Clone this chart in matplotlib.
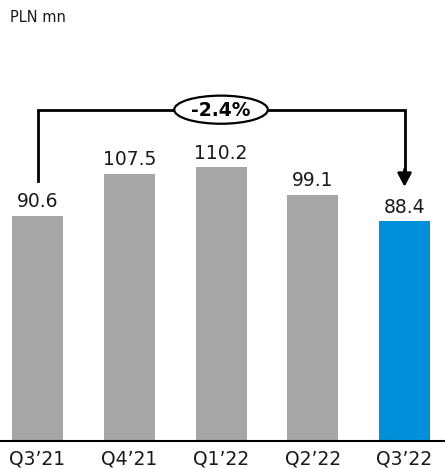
import matplotlib
matplotlib.use("Agg")
import matplotlib.pyplot as plt
from matplotlib.patches import Ellipse

quarters = ["Q3\u201921", "Q4\u201921", "Q1\u201922", "Q2\u201922", "Q3\u201922"]
values = [90.6, 107.5, 110.2, 99.1, 88.4]
unit_label = "PLN mn"

GREY = "#A6A6A6"
BLUE = "#0090DA"
colors = [GREY] * (len(values) - 1) + [BLUE]

plt.rcParams["font.family"] = ["DejaVu Sans"]

fig = plt.figure(figsize=(4.45, 4.69), dpi=100)
ax = fig.add_axes([0, 28 / 469, 1, 441 / 469])

x = list(range(len(values)))
ax.bar(x, values, width=0.556, color=colors, zorder=2)

ax.set_xlim(-0.409, 4.441)
ax.set_ylim(0, 177.3)

for xi, v in zip(x, values):
    ax.annotate(f"{v:.1f}", (xi, v), xytext=(0, 6), textcoords="offset points",
                ha="center", va="baseline", fontsize=13.5, color="#1a1a1a")

# bracket with change between first and last quarter
change = (values[-1] / values[0] - 1) * 100
top = max(values) + 23
start_y = values[0] + 13.8
end_y = values[-1] + 13.8
lw = 2.0
ax.plot([x[0], x[0], x[-1], x[-1]], [start_y, top, top, end_y + 6.5],
        color="black", lw=lw, solid_joinstyle="miter", zorder=3, clip_on=False)
ax.annotate("", xy=(x[-1], end_y), xytext=(x[-1], end_y + 7),
            arrowprops=dict(arrowstyle="-|>,head_length=0.8,head_width=0.42",
                            color="black", lw=lw, shrinkA=0, shrinkB=0),
            zorder=4)
mid = (x[0] + x[-1]) / 2
ax.add_patch(Ellipse((mid, top), 1.02, 11.3, facecolor="white",
                     edgecolor="black", lw=1.6, zorder=5))
ax.text(mid, top - 0.3, f"{change:.1f}%", ha="center", va="center", fontsize=13.5,
        fontweight="bold", zorder=6)

ax.set_xticks(x)
ax.set_xticklabels(quarters, fontsize=13.5, color="#1a1a1a")
ax.tick_params(axis="x", length=0, pad=6)
ax.set_yticks([])
for s in ["top", "right", "left"]:
    ax.spines[s].set_visible(False)
ax.spines["bottom"].set_linewidth(1.5)
ax.spines["bottom"].set_color("black")

fig.text(10 / 445, 1 - 17 / 469, unit_label, ha="left", va="center",
         fontsize=10.5, color="#1a1a1a")

fig.savefig("out.png", dpi=100)
